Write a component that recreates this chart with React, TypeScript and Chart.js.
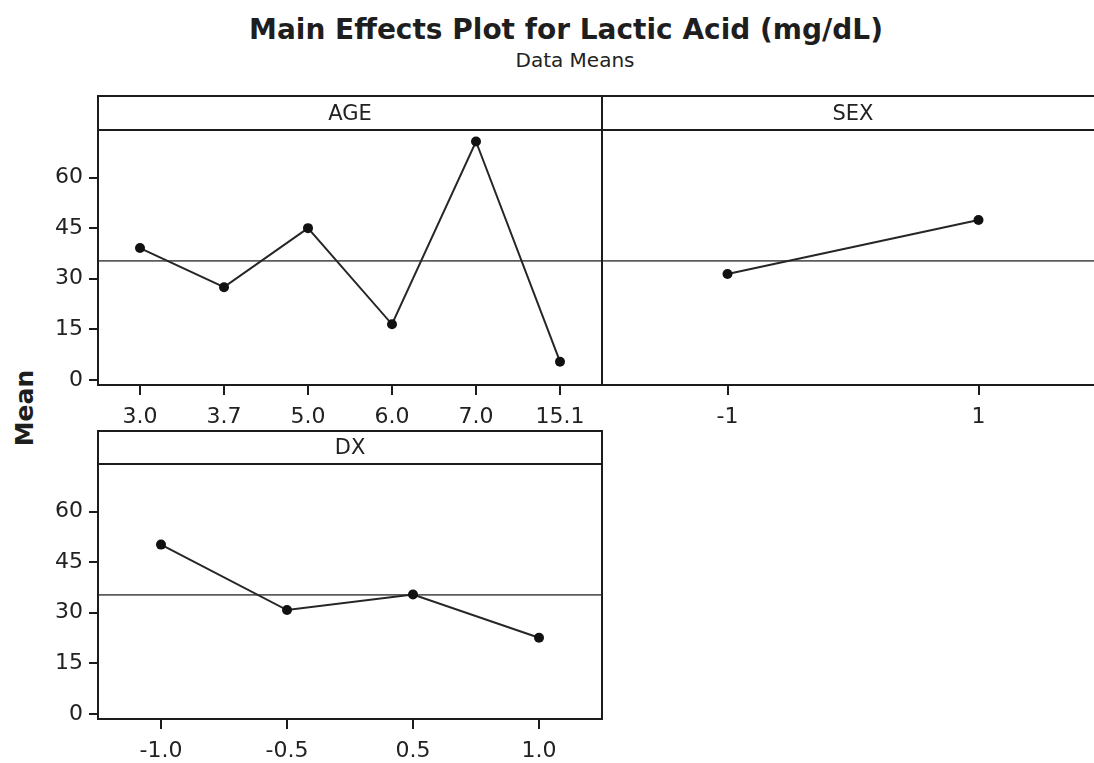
import React, { useEffect, useRef } from "react";
import { Chart, registerables } from "chart.js";

Chart.register(...registerables);

// ---- Data ----
const AGE_LEVELS = ["3.0", "3.7", "5.0", "6.0", "7.0", "15.1"];
const AGE_MEANS = [39.1, 27.5, 45.0, 16.5, 70.7, 5.4];

const SEX_LEVELS = ["-1", "1"];
const SEX_MEANS = [31.4, 47.4];

const DX_LEVELS = ["-1.0", "-0.5", "0.5", "1.0"];
const DX_MEANS = [50.2, 30.8, 35.4, 22.6];

const GRAND_MEAN = 35.3;
const Y_TICKS = [0, 15, 30, 45, 60];
const Y_MIN = -1.5;
const Y_MAX = 74.1;

const TITLE = "Main Effects Plot for Lactic Acid (mg/dL)";
const SUBTITLE = "Data Means";
const Y_LABEL = "Mean";

const FONT = "'DejaVu Sans', 'Noto Sans', sans-serif";
const INK = "#222222";
const FRAME = "#1c1c1c";

type Box = { left: number; top: number; width: number; height: number };
type Area = { L: number; T: number; R: number; B: number };

function Panel(props: {
  name: string;
  labels: string[];
  values: number[];
  box: Box;
  area: Area;
  headerH: number;
  showY: boolean;
}) {
  const ref = useRef<HTMLCanvasElement | null>(null);
  const { name, labels, values, box, area, headerH, showY } = props;

  useEffect(() => {
    if (!ref.current) return;
    const yAxisW = area.L - box.left;
    const xAxisH = box.top + box.height - area.B;
    const X_TICK = 10;
    const Y_TICK = 9;

    const panelPlugin = {
      id: "panelFrame",
      beforeDatasetsDraw(chart: any) {
        const { ctx, chartArea: a, scales } = chart;
        const y = scales.y.getPixelForValue(GRAND_MEAN);
        ctx.save();
        ctx.strokeStyle = "#5c5c5c";
        ctx.lineWidth = 1.7;
        ctx.beginPath();
        ctx.moveTo(a.left, y);
        ctx.lineTo(a.right, y);
        ctx.stroke();
        ctx.restore();
      },
      afterDraw(chart: any) {
        const { ctx, chartArea: a, scales } = chart;
        const top = a.top - headerH;
        ctx.save();
        ctx.fillStyle = FRAME;
        // tick marks along the bottom axis
        const n = scales.x.ticks.length;
        for (let i = 0; i < n; i++) {
          const x = Math.round(scales.x.getPixelForTick(i));
          ctx.fillRect(x - 1, a.bottom, 2, X_TICK);
        }
        // tick marks along the left axis
        if (showY) {
          for (let j = 0; j < Y_TICKS.length; j++) {
            const y = Math.round(scales.y.getPixelForValue(Y_TICKS[j]));
            ctx.fillRect(a.left - Y_TICK, y - 1, Y_TICK, 2);
          }
        }
        // frame + header strip
        ctx.strokeStyle = FRAME;
        ctx.lineWidth = 2;
        ctx.strokeRect(a.left, top, a.right - a.left, a.bottom - top);
        ctx.beginPath();
        ctx.moveTo(a.left, a.top);
        ctx.lineTo(a.right, a.top);
        ctx.stroke();
        ctx.fillStyle = INK;
        ctx.font = `21px ${FONT}`;
        ctx.textAlign = "center";
        ctx.textBaseline = "middle";
        ctx.fillText(name, (a.left + a.right) / 2, top + headerH / 2 + 1.5);
        ctx.restore();
      },
    };

    const chart = new Chart(ref.current, {
      type: "line",
      data: {
        labels,
        datasets: [
          {
            data: values,
            borderColor: "#262626",
            borderWidth: 2,
            pointRadius: 5,
            pointBackgroundColor: "#111111",
            pointBorderColor: "#111111",
            pointBorderWidth: 0,
            tension: 0,
            fill: false,
          },
        ],
      },
      options: {
        animation: false,
        responsive: false,
        devicePixelRatio: 1,
        events: [],
        layout: {
          padding: {
            left: 0,
            top: area.T - box.top,
            right: box.left + box.width - area.R,
            bottom: 0,
          },
        },
        plugins: {
          legend: { display: false },
          title: { display: false },
          tooltip: { enabled: false },
        },
        scales: {
          x: {
            type: "category",
            offset: true,
            border: { display: false },
            grid: {
              drawOnChartArea: false,
              drawTicks: true,
              tickLength: X_TICK,
              color: "rgba(0,0,0,0)",
              offset: false,
            },
            ticks: {
              color: INK,
              font: { family: FONT, size: 22 },
              padding: 9,
              maxRotation: 0,
              autoSkip: false,
            },
            afterFit: (s: any) => {
              s.height = xAxisH;
            },
          },
          y: {
            display: true,
            min: Y_MIN,
            max: Y_MAX,
            border: { display: false },
            grid: {
              drawOnChartArea: false,
              drawTicks: true,
              tickLength: Y_TICK,
              color: "rgba(0,0,0,0)",
            },
            ticks: {
              display: showY,
              color: INK,
              font: { family: FONT, size: 22 },
              padding: 6,
            },
            afterBuildTicks: (s: any) => {
              s.ticks = Y_TICKS.map((v) => ({ value: v }));
            },
            afterFit: (s: any) => {
              s.width = yAxisW;
            },
          },
        },
      },
      plugins: [panelPlugin],
    } as any);
    return () => chart.destroy();
  }, []);

  return (
    <canvas
      ref={ref}
      width={box.width}
      height={box.height}
      style={{
        position: "absolute",
        left: box.left,
        top: box.top,
        width: box.width,
        height: box.height,
      }}
    />
  );
}

export default function App() {
  return (
    <div
      style={{
        position: "fixed",
        left: 0,
        top: 0,
        width: 1094,
        height: 763,
        overflow: "hidden",
        background: "#ffffff",
        fontFamily: FONT,
        color: INK,
      }}
    >
      <div
        style={{
          position: "absolute",
          left: 166,
          top: 11,
          width: 800,
          textAlign: "center",
          fontSize: 28,
          fontWeight: "bold",
          lineHeight: "38px",
          color: "#1e1e1e",
        }}
      >
        {TITLE}
      </div>
      <div
        style={{
          position: "absolute",
          left: 175,
          top: 46,
          width: 800,
          textAlign: "center",
          fontSize: 20,
          lineHeight: "28px",
        }}
      >
        {SUBTITLE}
      </div>
      <div
        style={{
          position: "absolute",
          left: 25 - 60,
          top: 408 - 16,
          width: 120,
          height: 32,
          lineHeight: "32px",
          textAlign: "center",
          fontSize: 25,
          fontWeight: "bold",
          transform: "rotate(-90deg)",
          color: "#1e1e1e",
        }}
      >
        {Y_LABEL}
      </div>
      <Panel
        name="AGE"
        labels={AGE_LEVELS}
        values={AGE_MEANS}
        box={{ left: 0, top: 88, width: 620, height: 345 }}
        area={{ L: 98, T: 130, R: 602, B: 385 }}
        headerH={34}
        showY={true}
      />
      <Panel
        name="SEX"
        labels={SEX_LEVELS}
        values={SEX_MEANS}
        box={{ left: 590, top: 88, width: 530, height: 345 }}
        area={{ L: 602, T: 130, R: 1104, B: 385 }}
        headerH={34}
        showY={false}
      />
      <Panel
        name="DX"
        labels={DX_LEVELS}
        values={DX_MEANS}
        box={{ left: 0, top: 424, width: 620, height: 339 }}
        area={{ L: 98, T: 464, R: 602, B: 719 }}
        headerH={33}
        showY={true}
      />
    </div>
  );
}
